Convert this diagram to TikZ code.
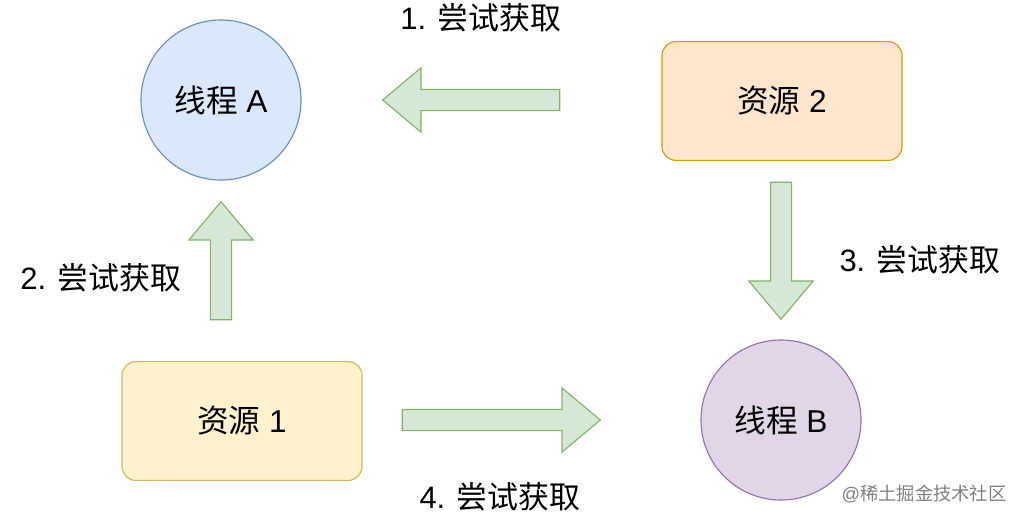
\documentclass[tikz,border=0pt]{standalone}
\usepackage{fontspec}
\setmainfont{Liberation Sans}
\newfontfamily\cjk{Noto Sans CJK SC}
\newcommand{\zh}[1]{{\cjk #1}}
\usetikzlibrary{shapes.arrows}

\definecolor{bluefill}{HTML}{DAE8FC}
\definecolor{blueline}{HTML}{6C8EBF}
\definecolor{purplefill}{HTML}{E1D5E7}
\definecolor{purpleline}{HTML}{9673A6}
\definecolor{orangefill}{HTML}{FFE6CC}
\definecolor{orangeline}{HTML}{D79B00}
\definecolor{yellowfill}{HTML}{FFF2CC}
\definecolor{yellowline}{HTML}{D6B656}
\definecolor{greenfill}{HTML}{D5E8D4}
\definecolor{greenline}{HTML}{82B366}

\begin{document}
\begin{tikzpicture}[x=0.025cm, y=-0.025cm, font=\fontsize{22.5}{26}\selectfont,
  thread/.style={circle, draw, line width=0.8pt, minimum size=4cm, inner sep=0pt},
  res/.style={draw=yellowline, fill=yellowfill, line width=0.8pt, rounded corners=0.35cm,
    minimum width=6cm, minimum height=2.97cm},
  grab/.style={single arrow, draw=greenline, fill=greenfill, line width=0.8pt,
    inner sep=0pt, inner ysep=0.25cm, single arrow head extend=0.54cm,
    single arrow tip angle=80},
  step label/.style={font=\fontsize{22}{26}\selectfont}]

\useasboundingbox (0,0) rectangle (1022,522);

% Threads
\node[thread, draw=blueline, fill=bluefill] (ta) at (221,100) {\zh{线程} A};
\node[thread, draw=purpleline, fill=purplefill] (tb) at (781,420) {\zh{线程} B};

% Resources
\node[res, draw=orangeline, fill=orangefill] (r2) at (782,101) {\zh{资源} 2};
\node[res] (r1) at (242,421) {\zh{资源} 1};

% Acquire attempts
\node[grab, minimum height=4.425cm, rotate=180] (g1) at (477.5,100) {};
\node[grab, minimum height=2.95cm, rotate=90] (g2) at (221,267) {};
\node[grab, minimum height=3.425cm, rotate=270] (g3) at (781,244.5) {};
\node[grab, minimum height=4.95cm] (g4) at (495,420) {};

\node[step label] (l1) at (481,18) {1. \zh{尝试获取}};
\node[step label] (l2) at (101,278) {2. \zh{尝试获取}};
\node[step label] (l3) at (920,260) {3. \zh{尝试获取}};
\node[step label] (l4) at (500,497) {4. \zh{尝试获取}};

\node[font=\fontsize{13}{16}\selectfont, text=gray] (wm) at (924,494) {@\zh{稀土掘金技术社区}};

\end{tikzpicture}
\end{document}
